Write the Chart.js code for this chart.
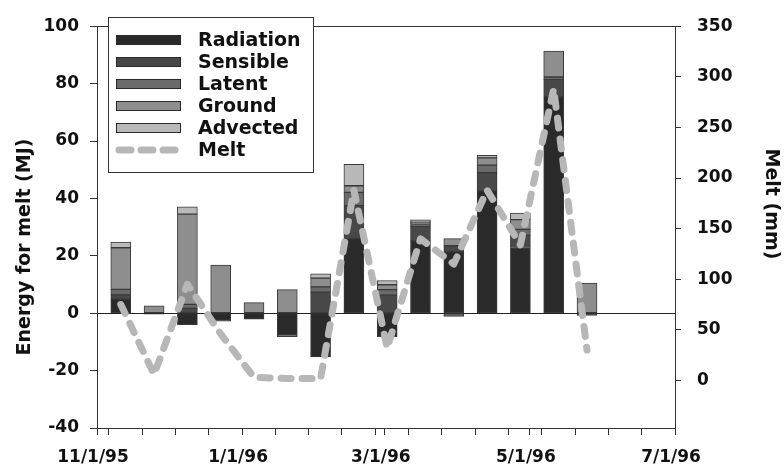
<!DOCTYPE html>
<html>
<head>
<meta charset="utf-8">
<script src="https://cdn.jsdelivr.net/npm/chart.js@4.4.1/dist/chart.umd.min.js"></script>
<style>
  html, body { margin: 0; padding: 0; background: #fff; }
  #chart { display: block; }
</style>
</head>
<body>
<canvas id="chart" width="784" height="469"></canvas>
<script>
// Two-week periods (bar centre dates) and labelled axis dates
const periods = ['11/11/95', '11/25/95', '12/9/95', '12/23/95', '1/6/96', '1/20/96', '2/3/96', '2/17/96',
                 '3/2/96', '3/16/96', '3/30/96', '4/13/96', '4/27/96', '5/11/96', '5/25/96'];
const axisLabels = ['11/1/95', '1/1/96', '3/1/96', '5/1/96', '7/1/96'];

// Energy terms available for melt (MJ)
const radiation = [4.9, -0.3, -4.0, -2.4, -2.1, -7.5, -15.2, 26.0, -8.2, 25.2, 21.4, 42.6, 22.9, 75.4, -0.8];
const sensible  = [1.5, 0, 1.7, -0.4, 0, -0.7, 7.3, 11.5, 6.3, 5.1, 2.1, 6.4, 4.2, 6.1, 0];
const latent    = [1.9, 0, 1.4, 0, 0, 0, 1.9, 4.6, 1.9, 0.8, -1.1, 2.6, 2.1, 0.8, 0];
const ground    = [14.5, 2.6, 31.4, 16.8, 3.7, 8.2, 3.0, 2.3, 1.7, 0.6, 2.5, 2.5, 3.4, 9.0, 10.5];
const advected  = [2.0, 0, 2.6, 0, 0, 0, 1.5, 7.5, 1.5, 0.8, 0, 0.9, 2.3, 0, 0];

// Melt per period (mm)
const melt = [75, 6, 95, 46, 3, 2, 2, 188, 32, 140, 115, 188, 134, 288, 30];

const FONT = '"DejaVu Sans", "Liberation Sans", Arial, sans-serif';
const INK = '#111';
const AXIS = '#333';

// days since 11/1/95
function dayOf(s) {
    const [m, d, y] = s.split('/').map(Number);
    return (Date.UTC(1900 + y, m - 1, d) - Date.UTC(1995, 10, 1)) / 86400000;
}

const days = periods.map(dayOf);
const majorDays = axisLabels.map(dayOf);
const labelFor = {};
axisLabels.forEach((t, i) => { labelFor[majorDays[i]] = t; });

// minor ticks every 14 days, lined up with 1/1/96
const xTicks = majorDays.slice();
for (let d = dayOf('1/1/96') % 14; d <= majorDays[majorDays.length - 1]; d += 14) {
    if (!xTicks.includes(d)) xTicks.push(d);
}
xTicks.sort((a, b) => a - b);

const series = [
    { label: 'Radiation', values: radiation, color: '#2a2a2a' },
    { label: 'Sensible',  values: sensible,  color: '#484848' },
    { label: 'Latent',    values: latent,    color: '#6a6a6a' },
    { label: 'Ground',    values: ground,    color: '#8e8e8e' },
    { label: 'Advected',  values: advected,  color: '#b9b9b9' }
];

const MELT_COLOR = '#b7b7b7';

const barSets = series.map(s => ({
    type: 'bar',
    label: s.label,
    data: s.values.map((v, i) => ({ x: days[i], y: v })),
    backgroundColor: s.color,
    borderColor: '#3a3a3a',
    borderWidth: 1,
    borderSkipped: false,
    barThickness: 20,
    stack: 'energy',
    yAxisID: 'y',
    order: 1
}));

const meltSet = {
    type: 'line',
    label: 'Melt',
    data: melt.map((v, i) => ({ x: days[i], y: v })),
    borderColor: MELT_COLOR,
    borderWidth: 7,
    borderDash: [10, 11],
    borderCapStyle: 'round',
    borderJoinStyle: 'round',
    pointRadius: 0,
    tension: 0,
    fill: false,
    yAxisID: 'y2',
    order: 0
};

// Frame top edge, axis titles and the boxed legend
const decorations = {
    id: 'decorations',
    beforeDatasetsDraw(chart) {
        const { ctx, chartArea } = chart;
        ctx.save();
        ctx.strokeStyle = AXIS;
        ctx.lineWidth = 1;
        ctx.beginPath();
        ctx.moveTo(chartArea.left, Math.round(chartArea.top) + 0.5);
        ctx.lineTo(chartArea.right, Math.round(chartArea.top) + 0.5);
        ctx.stroke();
        ctx.restore();
    },
    afterDraw(chart) {
        const { ctx } = chart;
        ctx.save();
        ctx.fillStyle = INK;
        ctx.font = 'bold 19px ' + FONT;
        ctx.textAlign = 'center';
        ctx.textBaseline = 'middle';

        ctx.save();
        ctx.translate(25, 247);
        ctx.rotate(-Math.PI / 2);
        ctx.fillText('Energy for melt (MJ)', 0, 0);
        ctx.restore();

        ctx.save();
        ctx.translate(771, 204);
        ctx.rotate(Math.PI / 2);
        ctx.fillText('Melt (mm)', 0, 0);
        ctx.restore();

        // legend box
        const bx = 108, by = 17, bw = 205, bh = 155;
        ctx.fillStyle = '#fff';
        ctx.fillRect(bx, by, bw, bh);
        ctx.strokeStyle = AXIS;
        ctx.lineWidth = 1;
        ctx.strokeRect(bx + 0.5, by + 0.5, bw, bh);

        const rowY = [40, 62, 84, 106, 128, 150];
        ctx.textAlign = 'left';
        series.forEach((s, i) => {
            const y = rowY[i];
            ctx.fillStyle = s.color;
            ctx.fillRect(116, y - 5, 65, 10);
            ctx.strokeStyle = '#2a2a2a';
            ctx.strokeRect(116.5, y - 4.5, 64, 9);
            ctx.fillStyle = INK;
            ctx.fillText(s.label, 198, y + 1);
        });
        const my = rowY[5];
        ctx.strokeStyle = MELT_COLOR;
        ctx.lineWidth = 7;
        ctx.lineCap = 'round';
        ctx.setLineDash([12, 10]);
        ctx.beginPath();
        ctx.moveTo(119, my);
        ctx.lineTo(178, my);
        ctx.stroke();
        ctx.setLineDash([]);
        ctx.fillStyle = INK;
        ctx.fillText('Melt', 198, my + 1);
        ctx.restore();
    }
};

const tickFont = { family: FONT, size: 17, weight: 'bold' };

new Chart(document.getElementById('chart'), {
    type: 'bar',
    data: { datasets: [...barSets, meltSet] },
    options: {
        responsive: false,
        animation: false,
        layout: { padding: { top: 23, left: 0, right: 0, bottom: 0 } },
        plugins: { legend: { display: false }, tooltip: { enabled: false } },
        scales: {
            x: {
                type: 'linear',
                min: majorDays[0],
                max: majorDays[majorDays.length - 1],
                offset: false,
                grid: { display: true, drawOnChartArea: false, offset: false, tickLength: 7, tickColor: AXIS },
                border: { display: true, color: AXIS, width: 1 },
                afterBuildTicks: s => { s.ticks = xTicks.map(v => ({ value: v })); },
                ticks: {
                    autoSkip: false, maxRotation: 0, minRotation: 0, padding: 12, labelOffset: -4,
                    font: tickFont, color: INK,
                    callback: v => labelFor[v] || ''
                },
                afterFit: s => { s.height = 41; }
            },
            y: {
                position: 'left',
                stacked: true,
                min: -40,
                max: 100,
                ticks: { stepSize: 20, padding: 11, font: tickFont, color: INK },
                grid: {
                    drawOnChartArea: true,
                    color: c => (c.tick && c.tick.value === 0 ? '#222' : 'rgba(0,0,0,0)'),
                    tickColor: AXIS,
                    tickLength: 7
                },
                border: { display: true, color: AXIS, width: 1 },
                afterFit: s => { s.width = 97; }
            },
            y2: {
                position: 'right',
                min: -47,
                max: 350,
                afterBuildTicks: s => { s.ticks = [0, 50, 100, 150, 200, 250, 300, 350].map(v => ({ value: v })); },
                ticks: { padding: 16, font: tickFont, color: INK },
                grid: { drawOnChartArea: false, tickColor: AXIS, tickLength: 6 },
                border: { display: true, color: AXIS, width: 1 },
                afterFit: s => { s.width = 109; }
            }
        }
    },
    plugins: [decorations]
});
</script>
</body>
</html>
